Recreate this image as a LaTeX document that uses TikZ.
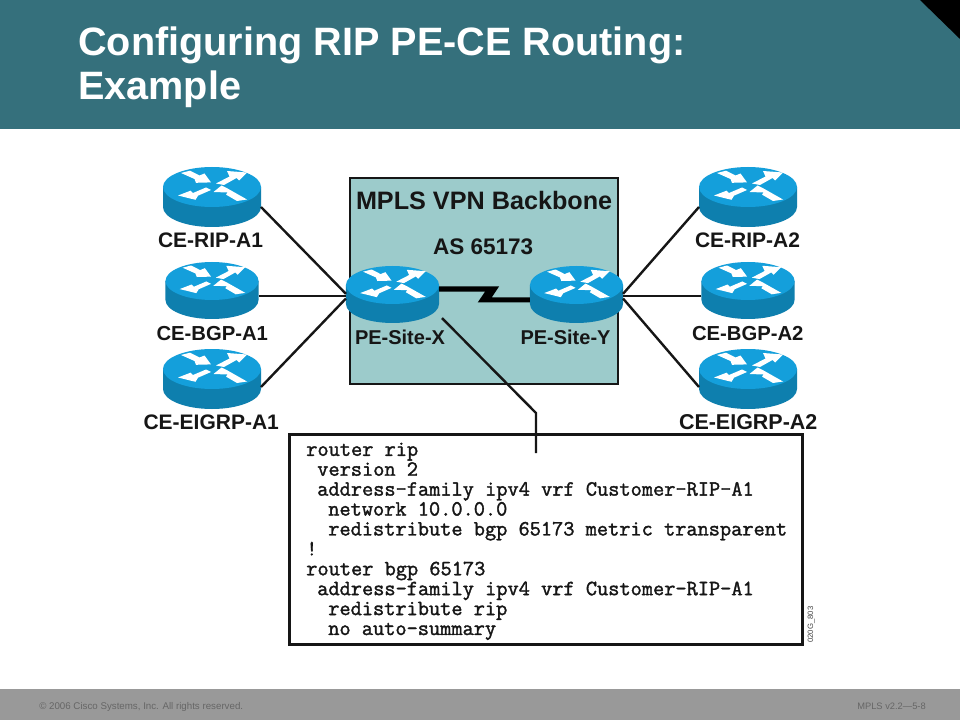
\documentclass[tikz,border=0pt]{standalone}
\usepackage{fontspec}
\setmainfont{Liberation Sans}
\newfontfamily\cfgfont{Latin Modern Mono}[FakeBold=1.6]
\definecolor{hdr}{HTML}{35707C}
\definecolor{foot}{HTML}{999999}
\definecolor{foottxt}{HTML}{666666}
\definecolor{panel}{HTML}{9CCBCB}
\definecolor{rtop}{HTML}{149FDB}
\definecolor{rside}{HTML}{0E7FAE}
\definecolor{ink}{HTML}{161616}
\tikzset{
  lbl/.style={anchor=base west,inner sep=0pt,outer sep=0pt,text=ink,font=\bfseries\fontsize{15.75}{18}\selectfont},
  bgplbl/.style={lbl,font=\bfseries\fontsize{15.2}{18}\selectfont},
  pelbl/.style={lbl,font=\bfseries\fontsize{15}{18}\selectfont},
  title/.style={anchor=base west,inner sep=0pt,text=white,font=\bfseries\fontsize{29.7}{33}\selectfont},
  foottext/.style={anchor=base west,inner sep=0pt,text=foottxt,font=\fontsize{7.3}{8}\selectfont},
  link/.style={draw=ink,line width=1.8pt},
  boxline/.style={draw=ink,line width=2.2pt,rectangle,inner sep=0pt,outer sep=0pt,anchor=north west},
  routerbox/.style={inner sep=0pt,outer sep=0pt,rectangle},
}
% name, centre x, top y, scale
\newcommand{\router}[4]{%
  \pgfmathsetmacro{\rw}{98*#4*.75}\pgfmathsetmacro{\rh}{60*#4*.75}
  \node[routerbox,minimum width=\rw pt,minimum height=\rh pt] (#1) at (#2,#3+30*#4) {};
  \begin{scope}[shift={(#2,#3+20*#4)},x=#4*.75pt,y=#4*.75pt]
    \fill[rside] (-49,0)--(-49,-20) arc[start angle=180,end angle=360,x radius=49,y radius=20]--(49,0)--cycle;
    \fill[rtop] (0,0) ellipse[x radius=49,y radius=20];
    \fill[white] (-31,14)--(-22,16.3)--(-12.5,11.5)--(-7.5,13.5)--(-1,4.6)--(-16,4.2)--(-17.5,8)--cycle;
    \fill[white] (4,3.5)--(17.5,10.5)--(15,16)--(35,14.5)--(27,6.5)--(24.5,9)--(12,2)--cycle;
    \fill[white] (-34,-8.5)--(-21.5,-3.7)--(-19,-6)--(-6,-.5)--(-1,-3)--(-14,-8.7)--(-16.5,-12.8)--cycle;
    \fill[white] (1.5,-5)--(9.5,1.5)--(15,-1.2)--(35,-12.5)--(25,-14)--(14,-7.6)--(15.5,-5.5)--cycle;
  \end{scope}}
\begin{document}
\begin{tikzpicture}[x=.75pt,y=-.75pt]
\useasboundingbox (0,0) rectangle (960,720);
\fill[white] (0,0) rectangle (960,720);
% header and footer
\fill[hdr] (0,0) rectangle (960,129);
\fill[black] (920,0)--(960,0)--(960,39)--cycle;
\fill[foot] (0,689) rectangle (960,720);
\node[title] (t1) at (78,56) {Configuring RIP PE-CE Routing:};
\node[title] (t2) at (78,100) {Example};
\node[foottext] (copy) at (39,709) {© 2006 Cisco Systems, Inc. All rights reserved.};
\node[foottext,font=\fontsize{7}{8}\selectfont] (ver) at (857,709) {MPLS v2.2—5-8};
% backbone panel
\node[boxline,fill=panel,minimum width=201pt,minimum height=154.5pt] (backbone) at (350,178) {};
% routers
\router{cerip1}{212}{167}{1}
\router{cebgp1}{212}{262}{.95}
\router{ceeig1}{212}{349}{1}
\router{cerip2}{748}{167}{1}
\router{cebgp2}{748}{262}{.95}
\router{ceeig2}{748}{349}{1}
\router{pex}{392.5}{266}{.95}
\router{pey}{576.5}{266}{.95}
% links
\draw[link] ([yshift=-7.5pt]cerip1.east) -- ([yshift=.5pt]pex.west);
\draw[link] ([yshift=-4pt]cebgp1.east) -- ([yshift=-1pt]pex.west);
\draw[link] ([yshift=-6pt]ceeig1.east) -- ([yshift=-3pt]pex.west);
\draw[link] ([yshift=-7.5pt]cerip2.west) -- ([yshift=.5pt]pey.east);
\draw[link] ([yshift=-4pt]cebgp2.west) -- ([yshift=-1pt]pey.east);
\draw[link] ([yshift=-6pt]ceeig2.west) -- ([yshift=-3pt]pey.east);
% serial link
\fill[black] ([yshift=6pt]pex.east) -- (499,286.5) -- (491.7,297.5) -- ([yshift=-2.25pt]pey.west) -- ([yshift=-6pt]pey.west) -- (477.7,302.5) -- (485,291.7) -- ([yshift=2.1pt]pex.east) -- cycle;
% configuration box
\node[boxline,fill=white,minimum width=384.75pt,minimum height=157.5pt] (cfgbox) at (289.5,434.5) {};
\coordinate (bend) at (536,413);
\coordinate (tap) at (536,453);
\draw[link] ([shift={(2.2pt,3.7pt)}]pex.south east) -- (bend) -- (tap);
% labels
\node[lbl] (l1) at (158,247.5) {CE-RIP-A1};
\node[bgplbl] (l2) at (156.5,340.5) {CE-BGP-A1};
\node[lbl] (l3) at (143.5,429.5) {CE-EIGRP-A1};
\node[lbl] (r1) at (695,247.5) {CE-RIP-A2};
\node[bgplbl] (r2) at (692,340.5) {CE-BGP-A2};
\node[lbl,font=\bfseries\fontsize{16.1}{18}\selectfont] (r3) at (679,429.5) {CE-EIGRP-A2};
\node[pelbl] (px) at (355,344.5) {PE-Site-X};
\node[pelbl] (py) at (520.5,344.5) {PE-Site-Y};
\node[lbl,font=\bfseries\fontsize{18.9}{22}\selectfont] (mpls) at (356,209.5) {MPLS VPN Backbone};
\node[lbl,font=\bfseries\fontsize{16.9}{20}\selectfont] (as) at (433,254.5) {AS 65173};
% configuration text
\node[anchor=north west,inner sep=0pt,align=left,text=ink,font=\cfgfont\fontsize{16.3}{14.93}\selectfont] (cfgtext) at (306,442.5) {%
router rip\\
\hspace*{8.25pt}version 2\\
\hspace*{8.25pt}address-family ipv4 vrf Customer-RIP-A1\\
\hspace*{16.5pt}network 10.0.0.0\\
\hspace*{16.5pt}redistribute bgp 65173 metric transparent\\
!\\
router bgp 65173\\
\hspace*{8.25pt}address-family ipv4 vrf Customer-RIP-A1\\
\hspace*{16.5pt}redistribute rip\\
\hspace*{16.5pt}no auto-summary};
\node[anchor=base west,rotate=90,inner sep=0pt,text=ink!80,font=\fontsize{5.8}{7}\selectfont] (code) at (813,643) {020G\_803};
\end{tikzpicture}
\end{document}
